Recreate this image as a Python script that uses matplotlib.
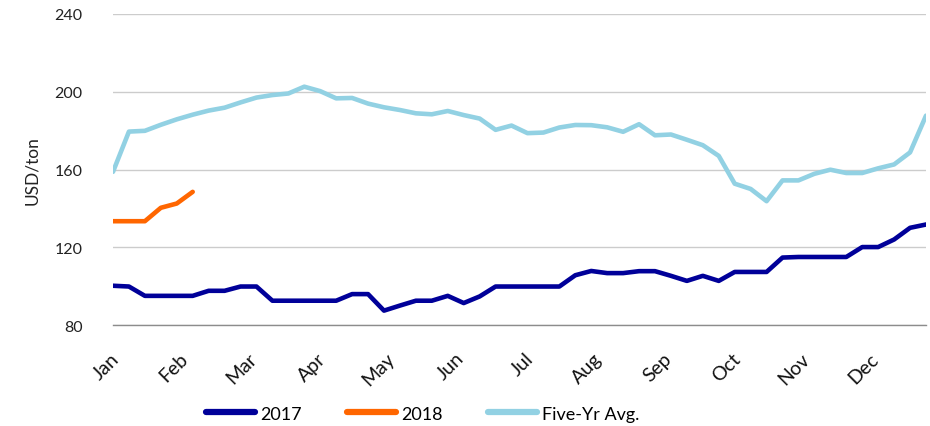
import matplotlib
matplotlib.use("Agg")
import matplotlib.pyplot as plt
import matplotlib.transforms as mtransforms
import numpy as np

months = ["Jan", "Feb", "Mar", "Apr", "May", "Jun", "Jul", "Aug", "Sep", "Oct", "Nov", "Dec"]

y2017 = [100.2, 99.8, 95, 95, 95, 95, 97.6, 97.6, 99.8, 99.8,
         92.5, 92.5, 92.5, 92.5, 92.5, 95.9, 95.9, 87.4, 90, 92.5,
         92.5, 95, 91.3, 94.7, 99.8, 99.8, 99.8, 99.8, 99.8, 105.6,
         107.8, 106.7, 106.7, 107.7, 107.7, 105.3, 102.7, 105.3, 102.7, 107.3,
         107.3, 107.3, 114.7, 115, 115, 115, 115, 120.1, 120.1, 124,
         130, 131.7]
y2018 = [133.4, 133.4, 133.4, 140.3, 142.5, 148.5]
five_yr = [158.8, 179.5, 179.9, 183, 185.8, 188.2, 190.3, 191.8, 194.5, 197,
           198.3, 199.1, 202.6, 200.3, 196.6, 196.8, 193.9, 192, 190.6, 188.9,
           188.4, 190.1, 188, 186.2, 180.4, 182.6, 178.7, 179, 181.6, 182.9,
           182.8, 181.7, 179.4, 183.3, 177.6, 178, 175.3, 172.5, 167, 152.7,
           150, 143.7, 154.4, 154.4, 157.8, 159.9, 158.2, 158.2, 160.6, 162.6,
           168.8, 187.7]
yticks = [80, 120, 160, 200, 240]

plt.rcParams['font.family'] = ['Lato', 'DejaVu Sans']

fig = plt.figure(figsize=(9.3, 4.27), dpi=100)
ax = fig.add_axes([0.1215, 0.2365, 0.8742, 0.7284])

ax.plot(np.arange(len(y2017)), y2017, color="#000099", lw=3.3, label="2017")
ax.plot(np.arange(len(y2018)), y2018, color="#FF6600", lw=3.3, label="2018", solid_capstyle="round")
ax.plot(np.arange(len(five_yr)), five_yr, color="#92D1E3", lw=3.3, label="Five-Yr Avg.", solid_capstyle="round")

ax.set_xlim(0, 51)
ax.set_ylim(80, 240)
ax.set_yticks(yticks)
ax.set_yticklabels([str(v) for v in yticks], fontsize=11.5, color="#222222")
ax.tick_params(axis="y", length=0, pad=22)
ax.grid(axis="y", color="#CCCCCC", lw=1.0)
ax.set_axisbelow(True)
for s in ["top", "right", "left"]:
    ax.spines[s].set_visible(False)
ax.spines["bottom"].set_color("#8C8C8C")
ax.spines["bottom"].set_linewidth(1.0)

xt = [i * 52 / 12 for i in range(12)]
ax.set_xticks(xt)
ax.set_xticklabels(months, rotation=45, ha="right", va="center", rotation_mode="anchor",
                   fontsize=14, color="#111111")
ax.tick_params(axis="x", length=0, pad=6)
offset = mtransforms.ScaledTranslation(3 / 100, -22 / 100, fig.dpi_scale_trans)
for lbl in ax.get_xticklabels():
    lbl.set_transform(lbl.get_transform() + offset)

ax.set_ylabel("USD/ton", fontsize=12.5, color="#222222", labelpad=10)

leg = ax.legend(loc="center", bbox_to_anchor=(0.381, -0.285), ncol=3, frameon=False,
                fontsize=13, handlelength=2.7, columnspacing=2.5, handletextpad=0.3)
for h in leg.get_lines():
    h.set_linewidth(4.5)
    h.set_solid_capstyle("round")

fig.savefig("out.png", dpi=100)
